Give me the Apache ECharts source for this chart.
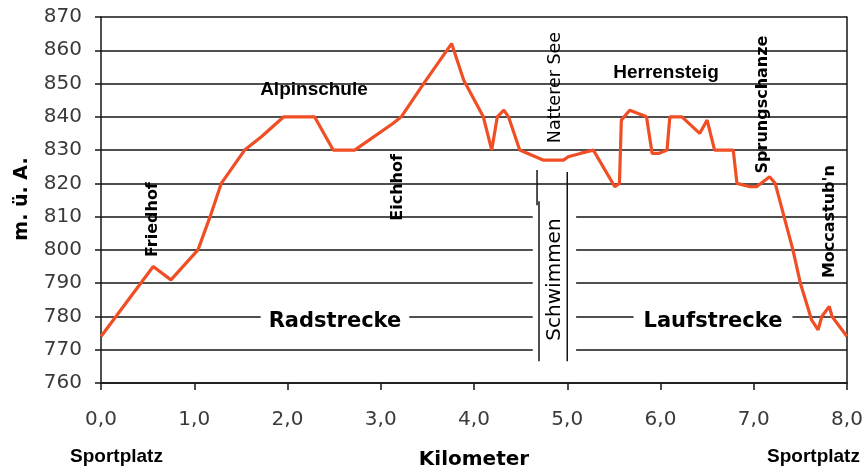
<!DOCTYPE html>
<html><head><meta charset="utf-8">
<script src="https://cdn.jsdelivr.net/npm/echarts@6/dist/echarts.min.js"></script>
<style>html,body{margin:0;padding:0;background:#fff}#c{width:867px;height:468px}</style>
</head><body><div id="c"></div>
<script>
// ---- data ----
const km = [0, 0.56, 0.75, 1.04, 1.17, 1.29, 1.54, 1.72, 1.96, 2.29, 2.49, 2.72, 3.13, 3.22, 3.46, 3.76, 3.89, 4.10, 4.19, 4.25, 4.32, 4.37, 4.49, 4.74, 4.96, 5.01, 5.14, 5.28, 5.51, 5.56, 5.58, 5.67, 5.85, 5.91, 5.98, 6.07, 6.10, 6.23, 6.42, 6.50, 6.58, 6.78, 6.82, 6.96, 7.03, 7.17, 7.23, 7.42, 7.50, 7.62, 7.69, 7.73, 7.81, 7.84, 8.00];
const elevation = [774, 795, 791, 800, 810, 820, 830, 834, 840, 840, 830, 830, 838, 840, 850, 862, 851, 840, 830, 840, 842, 840, 830, 827, 827, 828, 829, 830, 819, 820, 839, 842, 840, 829, 829, 830, 840, 840, 835, 839, 830, 830, 820, 819, 819, 822, 820, 800, 790, 779, 776, 780, 783, 780, 774];
const xTickValues = [0, 1, 2, 3, 4, 5, 6, 7, 8];
const yTickValues = [760, 770, 780, 790, 800, 810, 820, 830, 840, 850, 860, 870];
const placeNames = ['Friedhof', 'Alpinschule', 'Eichhof', 'Natterer See', 'Herrensteig', 'Sprungschanze', "Moccastub'n"];
const sectionNames = ['Radstrecke', 'Schwimmen', 'Laufstrecke'];
const xTitle = 'Kilometer';
const yTitle = 'm. ü. A.';
const startName = 'Sportplatz';
const endName = 'Sportplatz';

// ---- layout (data-coordinate anchors for annotations) ----
const placeAnchors = [
  {km: 0.558, el: 809.1, rot: true, bold: true, size: 16},
  {km: 2.284, el: 848.2, rot: false, bold: true, size: 19, fam: 'Liberation Sans'},
  {km: 3.185, el: 818.8, rot: true, bold: true, size: 16},
  {km: 4.869, el: 848.8, rot: true, bold: false, size: 17.5},
  {km: 6.059, el: 853.3, rot: false, bold: true, size: 19, fam: 'Liberation Sans'},
  {km: 7.099, el: 843.7, rot: true, bold: true, size: 16},
  {km: 7.818, el: 808.5, rot: true, bold: true, size: 16}
];

const chart = echarts.init(document.getElementById('c'), null, {renderer: 'canvas'});
const AX = '#141414';
const option = {
  animation: false,
  backgroundColor: '#ffffff',
  grid: {left: 101, right: 20, top: 17, bottom: 85},
  xAxis: {
    type: 'value', min: xTickValues[0], max: xTickValues[xTickValues.length - 1], interval: 1,
    axisLine: {lineStyle: {color: AX, width: 1.5}},
    axisTick: {length: 7, lineStyle: {color: AX, width: 1.5}},
    splitLine: {show: false},
    axisLabel: {
      formatter: v => v.toFixed(1).replace('.', ','),
      fontFamily: 'DejaVu Sans', fontSize: 20, color: '#3a3a3a', margin: 27
    }
  },
  yAxis: [{
    type: 'value', min: yTickValues[0], max: yTickValues[yTickValues.length - 1], interval: 10,
    axisLine: {show: true, lineStyle: {color: AX, width: 1.5}},
    axisTick: {show: true, length: 6, lineStyle: {color: AX, width: 1.5}},
    splitLine: {show: true, lineStyle: {color: AX, width: 1.5}},
    axisLabel: {fontFamily: 'DejaVu Sans', fontSize: 20, color: '#3a3a3a', margin: 19, padding: [8, 0, 0, 0]}
  }, {
    type: 'value', min: yTickValues[0], max: yTickValues[yTickValues.length - 1], position: 'right',
    axisLine: {show: true, lineStyle: {color: AX, width: 1.5}},
    axisTick: {show: false}, axisLabel: {show: false}, splitLine: {show: false}
  }],
  series: [{
    type: 'line', data: km.map((k, i) => [k, elevation[i]]),
    symbol: 'none', silent: true, z: 5,
    lineStyle: {color: '#f04e25', width: 3.2}
  }]
};
chart.setOption(option);

const P = (k, e) => chart.convertToPixel({gridIndex: 0}, [k, e]);
const g = [];
// Schwimmen: blank out grid under the swim box and draw the box edges
{
  const a = P(4.63, 817.5), b = P(5.095, 763.5);
  g.push({type: 'rect', z: 1, silent: true, shape: {x: a[0], y: a[1], width: b[0] - a[0], height: b[1] - a[1]}, style: {fill: '#fff'}});
  const l1 = P(4.676, 824), l2 = P(4.676, 813.4), l3 = P(4.697, 814.6), l4 = P(4.697, 766.5);
  g.push({type: 'line', z: 3, silent: true, shape: {x1: l1[0], y1: l1[1], x2: l2[0], y2: l2[1]}, style: {stroke: AX, lineWidth: 1.5}});
  g.push({type: 'line', z: 3, silent: true, shape: {x1: l3[0], y1: l3[1], x2: l4[0], y2: l4[1]}, style: {stroke: AX, lineWidth: 1.5}});
  const r1 = P(5.0, 823.4), r2 = P(5.0, 766.5);
  g.push({type: 'line', z: 3, silent: true, shape: {x1: r1[0], y1: r1[1], x2: r2[0], y2: r2[1]}, style: {stroke: AX, lineWidth: 1.5}});
  const s = P(4.869, 791.1);
  g.push({type: 'text', z: 6, silent: true, x: s[0], y: s[1], rotation: Math.PI / 2,
    style: {text: sectionNames[1], fontFamily: 'DejaVu Sans', fontSize: 20, fill: '#000', align: 'center', verticalAlign: 'middle'}});
}
// Rad / Lauf section labels with white gaps in the grid
[[sectionNames[0], 2.509, 778.6, 8], [sectionNames[2], 6.563, 778.6, 10]].forEach(([t, k, e, pad]) => {
  const p = P(k, e);
  g.push({type: 'text', z: 6, silent: true, x: p[0], y: p[1],
    style: {text: t, fontFamily: 'DejaVu Sans', fontWeight: 'bold', fontSize: 21, fill: '#000', align: 'center', verticalAlign: 'middle',
      backgroundColor: '#fff', padding: [2, pad, 2, pad]}});
});
// place names
placeNames.forEach((t, i) => {
  const a = placeAnchors[i], p = P(a.km, a.el);
  g.push({type: 'text', z: 6, silent: true, x: p[0], y: p[1], rotation: a.rot ? Math.PI / 2 : 0,
    style: {text: t, fontFamily: a.fam || 'DejaVu Sans', fontWeight: a.bold ? 'bold' : 'normal', fontSize: a.size, fill: '#000',
      align: 'center', verticalAlign: 'middle'}});
});
// axis titles and endpoints
g.push({type: 'text', z: 6, silent: true, x: 474, y: 460,
  style: {text: xTitle, fontFamily: 'DejaVu Sans', fontWeight: 'bold', fontSize: 20, fill: '#000', align: 'center', verticalAlign: 'middle'}});
g.push({type: 'text', z: 6, silent: true, x: 22.5, y: 199, rotation: Math.PI / 2,
  style: {text: yTitle, fontFamily: 'DejaVu Sans', fontWeight: 'bold', fontSize: 19, fill: '#000', align: 'center', verticalAlign: 'middle'}});
g.push({type: 'text', z: 6, silent: true, x: 116.5, y: 457,
  style: {text: startName, fontFamily: 'Liberation Sans', fontWeight: 'bold', fontSize: 19, fill: '#000', align: 'center', verticalAlign: 'middle'}});
g.push({type: 'text', z: 6, silent: true, x: 813.5, y: 457,
  style: {text: endName, fontFamily: 'Liberation Sans', fontWeight: 'bold', fontSize: 19, fill: '#000', align: 'center', verticalAlign: 'middle'}});
chart.setOption({graphic: g});
</script></body></html>
